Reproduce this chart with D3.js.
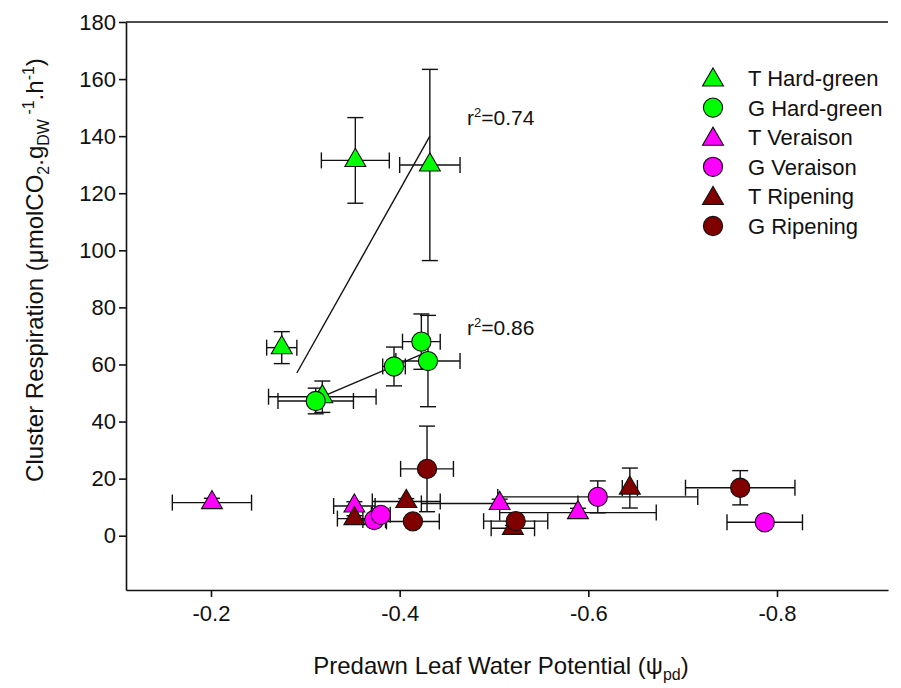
<!DOCTYPE html>
<html>
<head>
<meta charset="utf-8">
<script src="https://cdn.jsdelivr.net/npm/d3@7"></script>
<style>
  body { margin: 0; background: #fff; }
  svg { display: block; font-family: 'Liberation Sans', Arial, sans-serif; }
</style>
</head>
<body>
<div id="chart"></div>
<script>
// mean x (psi_pd), mean y (respiration), x error, y error
const tHardGreen = [
  { x: -0.353, y: 131.5, xe: 0.036, ye: 15.0 },
  { x: -0.432, y: 129.9, xe: 0.032, ye: 33.5 },
  { x: -0.275, y: 65.9, xe: 0.016, ye: 5.6 },
  { x: -0.318, y: 48.7, xe: 0.057, ye: 5.5 },
];
const gHardGreen = [
  { x: -0.311, y: 47.2, xe: 0.040, ye: 4.5 },
  { x: -0.394, y: 59.3, xe: 0.012, ye: 6.8 },
  { x: -0.423, y: 68.0, xe: 0.020, ye: 9.7 },
  { x: -0.430, y: 61.2, xe: 0.034, ye: 16.0 },
];
const tVeraison = [
  { x: -0.201, y: 11.6, xe: 0.042, ye: 1.5 },
  { x: -0.352, y: 10.4, xe: 0.022, ye: 1.5 },
  { x: -0.506, y: 11.3, xe: 0.083, ye: 1.5 },
  { x: -0.589, y: 8.1, xe: 0.083, ye: 1.5 },
];
const gVeraison = [
  { x: -0.373, y: 5.5, xe: 0.012, ye: 0 },
  { x: -0.380, y: 7.3, xe: 0.010, ye: 0 },
  { x: -0.610, y: 13.6, xe: 0.106, ye: 5.6 },
  { x: -0.787, y: 4.7, xe: 0.040, ye: 0.5 },
];
const tRipening = [
  { x: -0.352, y: 6.0, xe: 0.018, ye: 1.0 },
  { x: -0.407, y: 12.0, xe: 0.036, ye: 1.0 },
  { x: -0.520, y: 2.6, xe: 0.023, ye: 1.0 },
  { x: -0.644, y: 16.7, xe: 0.008, ye: 7.0 },
];
const gRipening = [
  { x: -0.429, y: 23.4, xe: 0.028, ye: 15.0 },
  { x: -0.414, y: 5.0, xe: 0.028, ye: 0 },
  { x: -0.523, y: 5.1, xe: 0.034, ye: 0 },
  { x: -0.761, y: 16.8, xe: 0.058, ye: 6.0 },
];

// linear fits drawn for the hard-green stage
const fitTHardGreen = [[-0.291, 57.0], [-0.432, 140.0]];
const fitGHardGreen = [[-0.318, 48.7], [-0.430, 64.5]];
const r2Values = ['0.74', '0.86'];

const seriesNames = ['T Hard-green', 'G Hard-green', 'T Veraison', 'G Veraison', 'T Ripening', 'G Ripening'];
const xTicks = [-0.2, -0.4, -0.6, -0.8];
const yTicks = [0, 20, 40, 60, 80, 100, 120, 140, 160, 180];

const series = [
  { name: seriesNames[0], data: tHardGreen, shape: 'tri', color: '#00ff00' },
  { name: seriesNames[1], data: gHardGreen, shape: 'circ', color: '#00ff00' },
  { name: seriesNames[2], data: tVeraison, shape: 'tri', color: '#ff00ff' },
  { name: seriesNames[3], data: gVeraison, shape: 'circ', color: '#ff00ff' },
  { name: seriesNames[4], data: tRipening, shape: 'tri', color: '#800000' },
  { name: seriesNames[5], data: gRipening, shape: 'circ', color: '#800000' },
];

const width = 901, height = 688;
const plot = { left: 126, right: 888, top: 22, bottom: 590 };

const svg = d3.select('#chart').append('svg')
  .attr('width', width).attr('height', height);

svg.append('rect').attr('width', width).attr('height', height).attr('fill', '#fff');

const x = d3.scaleLinear().domain([-0.2, -0.8]).range([211, 777]);
x.domain([x.invert(plot.left), x.invert(plot.right)]).range([plot.left, plot.right]);
const y = d3.scaleLinear().domain([0, 180]).range([535.7, plot.top]);
y.domain([y.invert(plot.bottom), 180]).range([plot.bottom, plot.top]);

const symbolFor = (shape) => d3.symbol()
  .type(shape === 'tri' ? d3.symbolTriangle : d3.symbolCircle)
  .size(shape === 'tri' ? 190 : 290);

// axes
const yAxis = svg.append('g')
  .attr('transform', `translate(${plot.left},0)`)
  .call(d3.axisLeft(y).tickValues(yTicks).tickSize(7).tickPadding(3).tickSizeOuter(0));
const xAxis = svg.append('g')
  .attr('transform', `translate(0,${plot.bottom})`)
  .call(d3.axisBottom(x).tickValues(xTicks).tickSize(7).tickPadding(8)
    .tickSizeOuter(0));

[yAxis, xAxis].forEach((g) => {
  g.select('.domain').attr('stroke', '#111').attr('stroke-width', 1.6);
  g.selectAll('.tick line').attr('stroke', '#111').attr('stroke-width', 1.6);
  g.selectAll('.tick text').attr('fill', '#111').style('font-size', '22px')
    .style('font-family', "'Liberation Sans', Arial, sans-serif");
});
xAxis.selectAll('.tick text').text((d) => d3.format('.1f')(d).replace('−', '-'));

// top frame line
svg.append('line')
  .attr('x1', plot.left).attr('x2', plot.right)
  .attr('y1', plot.top).attr('y2', plot.top)
  .attr('stroke', '#111').attr('stroke-width', 1.6);

// error bars
const bars = svg.append('g').attr('stroke', '#111').attr('stroke-width', 1.4).attr('fill', 'none');
const cap = 8;
series.forEach((s) => {
  s.data.forEach((d) => {
    const cx = x(d.x), cy = y(d.y);
    if (d.xe > 0) {
      const x0 = x(d.x - d.xe), x1 = x(d.x + d.xe);
      bars.append('line').attr('x1', x0).attr('x2', x1).attr('y1', cy).attr('y2', cy);
      [x0, x1].forEach((xx) => bars.append('line')
        .attr('x1', xx).attr('x2', xx).attr('y1', cy - cap).attr('y2', cy + cap));
    }
    if (d.ye > 0) {
      const y0 = y(d.y - d.ye), y1 = y(d.y + d.ye);
      bars.append('line').attr('x1', cx).attr('x2', cx).attr('y1', y0).attr('y2', y1);
      [y0, y1].forEach((yy) => bars.append('line')
        .attr('x1', cx - cap).attr('x2', cx + cap).attr('y1', yy).attr('y2', yy));
    }
  });
});

// regression lines
const line = d3.line().x((d) => x(d[0])).y((d) => y(d[1]));
[fitTHardGreen, fitGHardGreen].forEach((f) => {
  svg.append('path').attr('d', line(f))
    .attr('fill', 'none').attr('stroke', '#111').attr('stroke-width', 1.4);
});

// markers
series.forEach((s) => {
  svg.append('g').selectAll('path').data(s.data).join('path')
    .attr('d', symbolFor(s.shape))
    .attr('transform', (d) => `translate(${x(d.x)},${y(d.y)})`)
    .attr('fill', s.color).attr('stroke', '#111').attr('stroke-width', 1.1);
});

// r-squared labels
const r2Pos = [[467, 125], [467, 335]];
r2Values.forEach((v, i) => {
  const t = svg.append('text').attr('x', r2Pos[i][0]).attr('y', r2Pos[i][1])
    .attr('fill', '#111').style('font-size', '21px');
  t.append('tspan').text('r');
  t.append('tspan').attr('dy', -8).style('font-size', '13px').text('2');
  t.append('tspan').attr('dy', 8).text('=' + v);
});

// legend
const legend = svg.append('g').attr('transform', 'translate(713,78)');
series.forEach((s, i) => {
  const row = legend.append('g').attr('transform', `translate(0,${i * 29.6})`);
  row.append('path').attr('d', symbolFor(s.shape))
    .attr('transform', s.shape === 'tri' ? 'translate(0,2)' : null)
    .attr('fill', s.color).attr('stroke', '#111').attr('stroke-width', 1.1);
  row.append('text').attr('x', 35).attr('dy', '0.36em')
    .attr('fill', '#111').style('font-size', '22px').text(s.name);
});

// axis titles
const xt = svg.append('text')
  .attr('x', 501).attr('y', 674)
  .attr('text-anchor', 'middle').attr('fill', '#111').style('font-size', '24px');
xt.append('tspan').text('Predawn Leaf Water Potential (ψ');
xt.append('tspan').attr('dy', 6).style('font-size', '16px').text('pd');
xt.append('tspan').attr('dy', -6).text(')');

const yt = svg.append('text')
  .attr('transform', 'translate(43,270) rotate(-90)')
  .attr('text-anchor', 'middle').attr('fill', '#111').style('font-size', '24px');
yt.append('tspan').text('Cluster Respiration (μmolCO');
yt.append('tspan').attr('dy', 6).style('font-size', '16px').text('2');
yt.append('tspan').attr('dy', -6).text('.g');
yt.append('tspan').attr('dy', 6).style('font-size', '16px').text('DW');
yt.append('tspan').attr('dy', -15).style('font-size', '16px').text(' -1');
yt.append('tspan').attr('dy', 9).text('.h');
yt.append('tspan').attr('dy', -9).style('font-size', '16px').text('-1');
yt.append('tspan').attr('dy', 9).text(')');
</script>
</body>
</html>
